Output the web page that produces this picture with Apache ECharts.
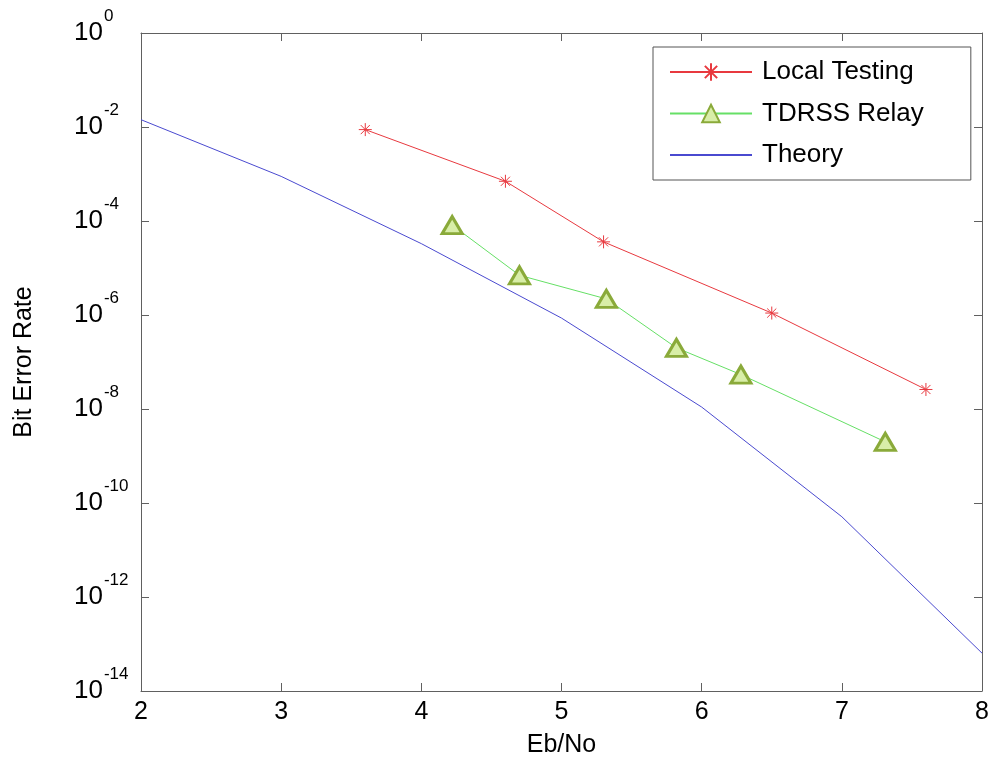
<!DOCTYPE html>
<html>
<head>
<meta charset="utf-8">
<script src="https://cdn.jsdelivr.net/npm/echarts@6/dist/echarts.min.js"></script>
<style>
html,body{margin:0;padding:0;background:#fff;}
#chart{width:992px;height:763px;}
</style>
</head>
<body>
<div id="chart"></div>
<script>
// ---- data ----
const localX  = [3.6, 4.6, 5.3, 6.5, 7.6];
const localY  = [8.8e-3, 7.0e-4, 3.6e-5, 1.1e-6, 2.6e-8];
const tdrssX  = [4.22, 4.70, 5.32, 5.82, 6.28, 7.31];
const tdrssY  = [8.2e-5, 7.0e-6, 2.2e-6, 2.0e-7, 5.4e-8, 2.0e-9];
const theoryX = [2, 3, 4, 5, 6, 7, 8];
const theoryY = [1.43e-2, 8.9e-4, 3.3e-5, 8.6e-7, 1.1e-8, 5.1e-11, 6.4e-14];
const xTicks  = [2, 3, 4, 5, 6, 7, 8];
const yTickExponents = [0, -2, -4, -6, -8, -10, -12, -14];
const seriesNames = ['Local Testing', 'TDRSS Relay', 'Theory'];

const FONT = '"Liberation Sans", Arial, sans-serif';
const AX = '#606060';

function pairs(xs, ys){ return xs.map((x,i)=>[x, ys[i]]); }

const starPath = 'path://M0,-10L0,10M-10,0L10,0M-7,-7L7,7M-7,7L7,-7';

const chart = echarts.init(document.getElementById('chart'), null, {renderer:'canvas'});
const axisLineCommon = {show:true, lineStyle:{color:AX, width:1}};
const tickCommon = {show:true, inside:true, length:8, lineStyle:{color:AX, width:1}};

chart.setOption({
  backgroundColor:'#fff',
  animation:false,
  grid:{left:141, right:10, top:33, bottom:70, containLabel:false},
  legend:{
    orient:'vertical',
    left:653, top:47,
    data:[
      {name:seriesNames[0]},
      {name:seriesNames[1]},
      {name:seriesNames[2], itemStyle:{opacity:0}}
    ],
    backgroundColor:'#fff',
    borderColor:'#555', borderWidth:1,
    padding:[12,47,12,16],
    itemWidth:82, itemHeight:22, itemGap:15.5,
    textStyle:{fontFamily:FONT, fontSize:26, color:'#000', lineHeight:22, padding:[0,0,0,5]}
  },
  xAxis:[{
    type:'value', min:xTicks[0], max:xTicks[xTicks.length-1], interval:1,
    position:'bottom',
    name:'Eb/No', nameLocation:'middle', nameGap:42,
    nameTextStyle:{fontFamily:FONT, fontSize:25, color:'#000'},
    axisLine:axisLineCommon, axisTick:tickCommon,
    axisLabel:{fontFamily:FONT, fontSize:25, color:'#000', margin:9},
    splitLine:{show:false}
  },{
    type:'value', min:xTicks[0], max:xTicks[xTicks.length-1], interval:1,
    position:'top',
    axisLine:axisLineCommon, axisTick:tickCommon,
    axisLabel:{show:false}, splitLine:{show:false}
  }],
  yAxis:[{
    type:'log', logBase:10,
    min:Math.pow(10, yTickExponents[yTickExponents.length-1]),
    max:Math.pow(10, yTickExponents[0]),
    interval:2,
    position:'left',
    name:'Bit Error Rate', nameLocation:'middle', nameGap:104,
    nameTextStyle:{fontFamily:FONT, fontSize:25, color:'#000'},
    axisLine:axisLineCommon, axisTick:tickCommon,
    axisLabel:{
      align:'left', margin:67,
      formatter:function(v){
        const e = Math.round(Math.log10(v));
        return '{b|10}{s|' + e + '}';
      },
      rich:{
        b:{fontFamily:FONT, fontSize:26, color:'#000', verticalAlign:'middle'},
        s:{fontFamily:FONT, fontSize:17, color:'#000', verticalAlign:'middle', padding:[0,0,34,1]}
      }
    },
    splitLine:{show:false}
  },{
    type:'log', logBase:10,
    min:Math.pow(10, yTickExponents[yTickExponents.length-1]),
    max:Math.pow(10, yTickExponents[0]),
    interval:2,
    position:'right',
    axisLine:axisLineCommon, axisTick:tickCommon,
    axisLabel:{show:false}, splitLine:{show:false}
  }],
  series:[{
    name:seriesNames[0], type:'line',
    data:pairs(localX, localY),
    symbol:starPath, symbolSize:13,
    itemStyle:{color:'transparent', borderColor:'#e8393f', borderWidth:1},
    lineStyle:{color:'#e8393f', width:1},
    z:3
  },{
    name:seriesNames[1], type:'line',
    data:pairs(tdrssX, tdrssY),
    symbol:'triangle', symbolSize:[20,17],
    itemStyle:{color:'#d8eea8', borderColor:'#8aaa3a', borderWidth:3},
    lineStyle:{color:'#66e066', width:1},
    z:4
  },{
    name:seriesNames[2], type:'line',
    data:pairs(theoryX, theoryY),
    symbol:'none',
    itemStyle:{color:'#4a4ad0'},
    lineStyle:{color:'#4a4ad0', width:1},
    z:2
  }]
});
</script>
</body>
</html>
